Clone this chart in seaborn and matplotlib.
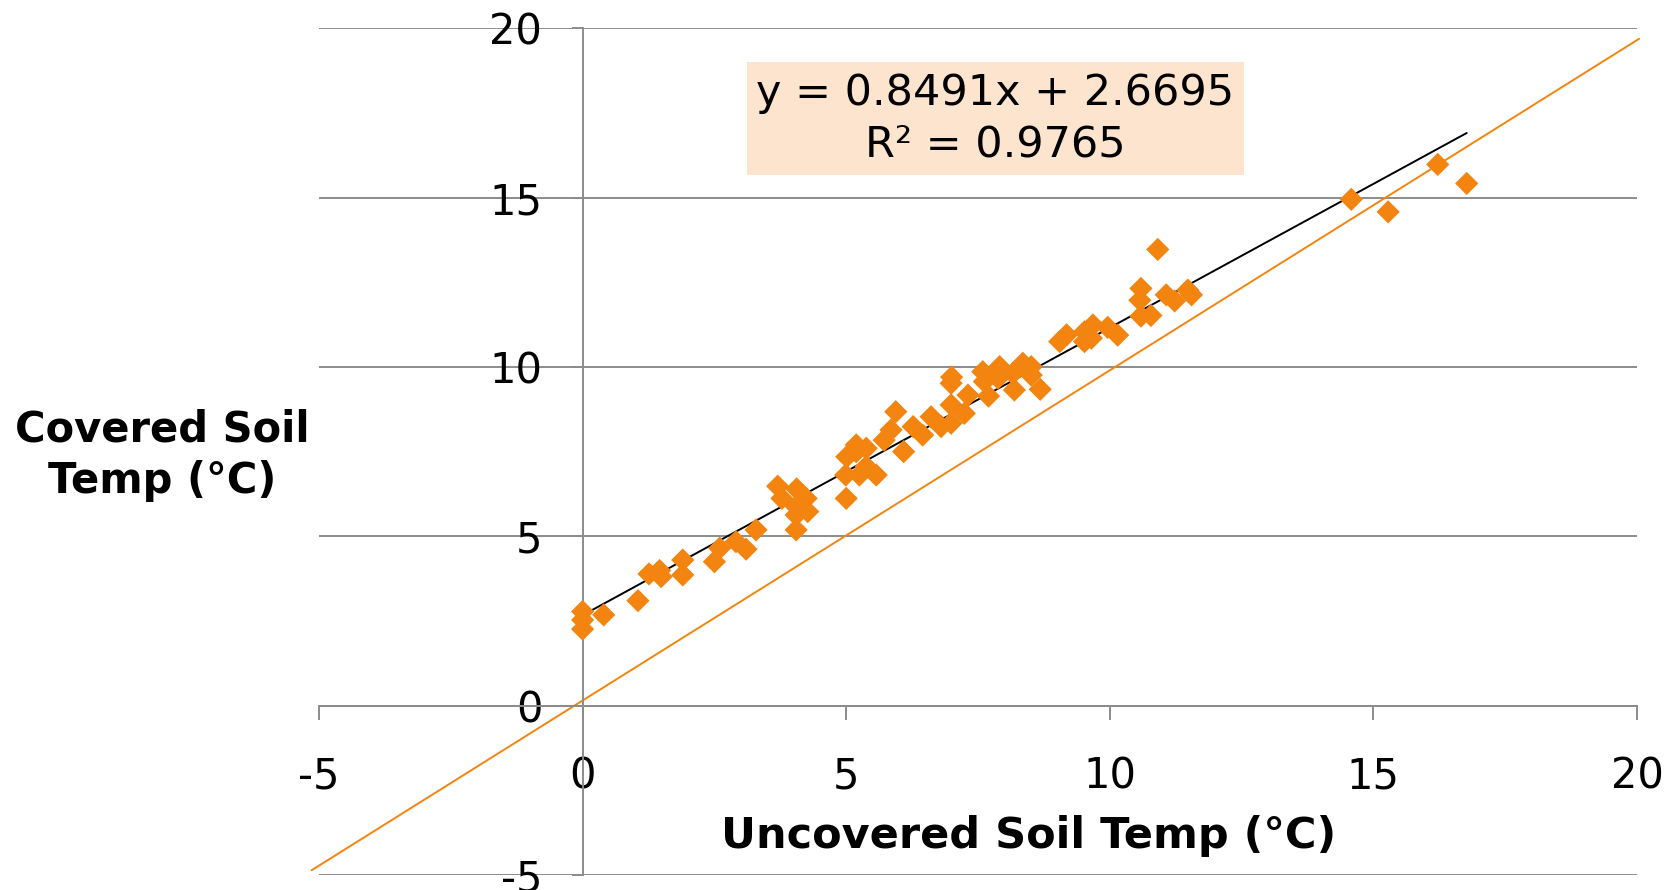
import matplotlib
matplotlib.use("Agg")
import matplotlib.pyplot as plt
import seaborn as sns
import numpy as np
import pandas as pd

# ---- data ----
uncovered = [0.00, 0.00, 0.00, 0.40, 1.05, 1.26, 1.46, 1.49, 1.90, 1.90,
             2.50, 2.60, 2.91, 3.10, 3.29, 3.70, 3.78, 4.06, 4.24, 4.05,
             4.05, 4.27, 4.05, 5.00, 4.99, 5.01, 5.19, 5.19, 5.38, 5.25,
             5.38, 5.57, 5.72, 5.85, 5.94, 6.09, 6.27, 6.45, 6.61, 6.80,
             6.99, 6.99, 6.99, 7.00, 7.24, 7.31, 7.59, 7.62, 7.70, 7.91,
             7.88, 8.16, 8.19, 8.35, 8.51, 8.51, 8.68, 9.05, 9.18, 9.52,
             9.68, 9.52, 9.65, 9.96, 10.15, 10.59, 10.57, 10.59, 10.78, 10.91,
             11.07, 11.23, 11.48, 11.55, 14.58, 15.28, 16.22, 16.77]
covered = [2.78, 2.53, 2.26, 2.68, 3.10, 3.89, 3.99, 3.81, 4.30, 3.86,
           4.25, 4.65, 4.84, 4.62, 5.19, 6.48, 6.12, 6.40, 6.12, 5.88,
           5.63, 5.73, 5.19, 6.12, 6.81, 7.35, 7.70, 7.50, 7.60, 6.81,
           7.06, 6.81, 7.84, 8.14, 8.68, 7.50, 8.24, 7.99, 8.53, 8.24,
           8.34, 8.88, 9.52, 9.70, 8.63, 9.17, 9.86, 9.57, 9.14, 10.01,
           9.67, 9.81, 9.32, 10.11, 10.01, 9.76, 9.34, 10.75, 10.95, 11.04,
           11.24, 10.75, 10.85, 11.17, 10.94, 12.32, 11.97, 11.50, 11.52, 13.47,
           12.13, 11.95, 12.27, 12.13, 14.95, 14.58, 15.98, 15.42]

# reference (near 1:1) line endpoints
ref_x = [-5.14, 20.04]
ref_y = [-4.86, 19.69]

# trendline coefficients
slope = 0.8491
intercept = 2.6695
r_squared = 0.9765

x_ticks = [-5, 0, 5, 10, 15, 20]
y_ticks = [-5, 0, 5, 10, 15, 20]

xlabel = "Uncovered Soil Temp (°C)"
ylabel = "Covered Soil\nTemp (°C)"

ORANGE = "#F2840F"
GRID = "#8C8C8C"
BOX = "#FCE4CE"

sns.set_theme(style="white")
plt.rcParams["font.family"] = ["DejaVu Sans"]

df = pd.DataFrame({"Uncovered": uncovered, "Covered": covered})
trend_x = [min(uncovered), max(uncovered)]
trend_y = [slope * v + intercept for v in trend_x]

fig = plt.figure(figsize=(16.8, 8.9), dpi=100)
ax = fig.add_axes([319 / 1680, 1 - 875 / 890, 1318 / 1680, 846.7 / 890])

ax.set_xlim(-5, 20)
ax.set_ylim(-5, 20)

# gridlines
ax.set_yticks(y_ticks)
ax.set_xticks(x_ticks)
ax.yaxis.grid(True, color=GRID, linewidth=1.4)
ax.xaxis.grid(False)
ax.set_axisbelow(True)

# reference line
sns.lineplot(x=ref_x, y=ref_y, ax=ax, color=ORANGE, linewidth=1.4,
             clip_on=False, zorder=2)
# trendline
sns.lineplot(x=trend_x, y=trend_y, ax=ax, color="black", linewidth=1.4, zorder=3)
# data points
sns.scatterplot(data=df, x="Uncovered", y="Covered", ax=ax, marker="D", s=140,
                color=ORANGE, edgecolor="none", linewidth=0, zorder=4, legend=False)

# spines crossing at zero
for side in ["top", "right"]:
    ax.spines[side].set_visible(False)
ax.spines["left"].set_position(("data", 0))
ax.spines["bottom"].set_position(("data", 0))
for side in ["left", "bottom"]:
    ax.spines[side].set_color(GRID)
    ax.spines[side].set_linewidth(1.4)

ax.tick_params(axis="x", direction="out", length=10, width=1.4, color=GRID,
               pad=26, labelsize=30, labelcolor="black", bottom=True)
ax.tick_params(axis="y", direction="out", length=8, width=1.4, color=GRID,
               pad=21, labelsize=30, labelcolor="black", left=True)
ax.set_xticklabels([str(t) for t in x_ticks])
ax.set_yticklabels([str(t) for t in y_ticks])

ax.set_xlabel(xlabel, fontsize=31, fontweight="bold", color="black")
ax.xaxis.set_label_coords(0.5387, 0.046)
ax.xaxis.label.set_verticalalignment("center")

ax.set_ylabel(ylabel, fontsize=30, fontweight="bold", color="black",
              rotation=0, ha="center", va="center", linespacing=1.3)
ax.yaxis.set_label_coords(-0.119, 0.496)

ax.text(0.5133, 0.893, f"y = {slope}x + {intercept}\nR² = {r_squared}",
        transform=ax.transAxes, ha="center", va="center", fontsize=31,
        color="black", linespacing=1.3, zorder=5,
        bbox=dict(boxstyle="square,pad=0.22", facecolor=BOX, edgecolor="none"))

fig.savefig("out.png", dpi=100)
